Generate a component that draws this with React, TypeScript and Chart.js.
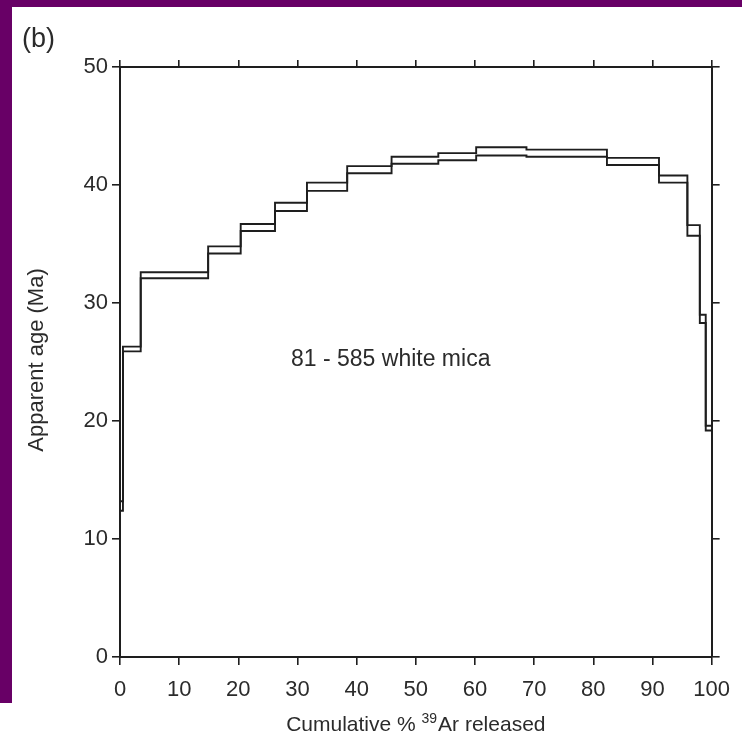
import React, { useEffect, useRef } from 'react';
import { Chart, registerables } from 'chart.js';

Chart.register(...registerables);

// Cumulative % 39Ar released at step boundaries
const cumulativePercent = [0, 0.5, 3.5, 14.9, 20.4, 26.2, 31.6, 38.4, 45.9, 53.8, 60.2, 68.7, 82.3, 91.1, 95.9, 98.0, 99.0, 100];
// Apparent age (Ma) box tops and bottoms for each heating step
const upperAge = [13.2, 26.3, 32.6, 34.8, 36.7, 38.5, 40.2, 41.6, 42.4, 42.7, 43.2, 43.0, 42.3, 40.8, 36.6, 29.0, 19.6];
const lowerAge = [12.4, 25.9, 32.1, 34.2, 36.1, 37.8, 39.5, 41.0, 41.8, 42.1, 42.5, 42.4, 41.7, 40.2, 35.7, 28.3, 19.2];

const xRange = [0, 100];
const yRange = [0, 50];
const xStep = 10;
const yStep = 10;

const panelLabel = '(b)';
const yTitle = 'Apparent age (Ma)';
const xTitleParts = ['Cumulative % ', '39', 'Ar released'];
const sampleLabel = { text: '81 - 585 white mica', x: 28.9, y: 25.2 };

const FONT = "'Liberation Sans', Arial, Helvetica, sans-serif";
const INK = '#1e1e1e';
const TEXT = '#2b2b2b';

function stepPoints(values: number[]) {
  const pts = values.map((v, i) => ({ x: cumulativePercent[i], y: v }));
  pts.push({ x: cumulativePercent[cumulativePercent.length - 1], y: values[values.length - 1] });
  return pts;
}

const textPlugin = {
  id: 'textPlugin',
  afterDraw(chart: any) {
    const { ctx, chartArea, scales } = chart;
    ctx.save();
    ctx.fillStyle = TEXT;
    // panel label
    ctx.font = `27px ${FONT}`;
    ctx.textAlign = 'left';
    ctx.textBaseline = 'middle';
    ctx.fillText(panelLabel, 22, 40);

    // sample annotation
    ctx.font = `23px ${FONT}`;
    ctx.textAlign = 'left';
    ctx.textBaseline = 'middle';
    ctx.fillText(sampleLabel.text, scales.x.getPixelForValue(sampleLabel.x), scales.y.getPixelForValue(sampleLabel.y));

    // y title
    ctx.save();
    ctx.translate(chartArea.left - 83, (chartArea.top + chartArea.bottom) / 2 - 2);
    ctx.rotate(-Math.PI / 2);
    ctx.font = `22px ${FONT}`;
    ctx.textAlign = 'center';
    ctx.textBaseline = 'middle';
    ctx.fillText(yTitle, 0, 0);
    ctx.restore();

    // x title with superscript
    const big = `21px ${FONT}`;
    const small = `14px ${FONT}`;
    ctx.font = big;
    const w0 = ctx.measureText(xTitleParts[0]).width;
    const w2 = ctx.measureText(xTitleParts[2]).width;
    ctx.font = small;
    const w1 = ctx.measureText(xTitleParts[1]).width + 1;
    const total = w0 + w1 + w2;
    let cx = (chartArea.left + chartArea.right) / 2 - total / 2;
    const baseY = chartArea.bottom + 74;
    ctx.textAlign = 'left';
    ctx.textBaseline = 'alphabetic';
    ctx.font = big;
    ctx.fillText(xTitleParts[0], cx, baseY);
    cx += w0;
    ctx.font = small;
    ctx.fillText(xTitleParts[1], cx, baseY - 8);
    cx += w1;
    ctx.font = big;
    ctx.fillText(xTitleParts[2], cx, baseY);
    ctx.restore();
  },
};

export default function App() {
  const ref = useRef<HTMLCanvasElement | null>(null);

  useEffect(() => {
    if (!ref.current) return;
    const grid = {
      drawOnChartArea: false,
      drawTicks: true,
      tickLength: 8,
      color: INK,
      lineWidth: 1.6,
    };
    const border = { display: true, color: INK, width: 2 };
    const tickFont = { family: FONT, size: 22 };
    const lineStyle = {
      stepped: true,
      borderColor: INK,
      borderWidth: 1.9,
      pointRadius: 0,
      fill: false,
      xAxisID: 'x',
      yAxisID: 'y',
    };
    const chart = new Chart(ref.current, {
      type: 'line',
      data: {
        datasets: [
          { label: 'upper', data: stepPoints(upperAge), ...lineStyle },
          { label: 'lower', data: stepPoints(lowerAge), ...lineStyle },
        ],
      },
      options: {
        animation: false,
        responsive: false,
        devicePixelRatio: 1,
        layout: { padding: 0 },
        plugins: { legend: { display: false }, tooltip: { enabled: false }, title: { display: false } },
        scales: {
          x: {
            type: 'linear',
            position: 'bottom',
            min: xRange[0],
            max: xRange[1],
            ticks: { stepSize: xStep, font: tickFont, color: TEXT, padding: 12, maxRotation: 0, autoSkip: false },
            grid,
            border,
            afterFit: (s: any) => { s.height = 88; },
          },
          x2: {
            type: 'linear',
            position: 'top',
            min: xRange[0],
            max: xRange[1],
            ticks: { stepSize: xStep, display: false },
            grid: { ...grid, tickLength: 7 },
            border,
            afterFit: (s: any) => { s.height = 67; },
          },
          y: {
            type: 'linear',
            position: 'left',
            min: yRange[0],
            max: yRange[1],
            ticks: { stepSize: yStep, font: tickFont, color: TEXT, padding: 4 },
            grid,
            border,
            afterFit: (s: any) => { s.width = 120; },
          },
          y2: {
            type: 'linear',
            position: 'right',
            min: yRange[0],
            max: yRange[1],
            ticks: { stepSize: yStep, display: false },
            grid,
            border,
            afterFit: (s: any) => { s.width = 29.5; },
          },
        },
      },
      plugins: [textPlugin],
    } as any);
    return () => chart.destroy();
  }, []);

  return (
    <div style={{ position: 'fixed', left: 0, top: 0, width: 742, height: 745, background: '#ffffff', overflow: 'hidden' }}>
      <div style={{ position: 'absolute', left: 0, top: 0, width: 742, height: 7, background: '#680066' }} />
      <div style={{ position: 'absolute', left: 0, top: 0, width: 12, height: 703, background: '#680066' }} />
      <canvas ref={ref} width={742} height={745} style={{ position: 'absolute', left: 0, top: 0 }} />
    </div>
  );
}
